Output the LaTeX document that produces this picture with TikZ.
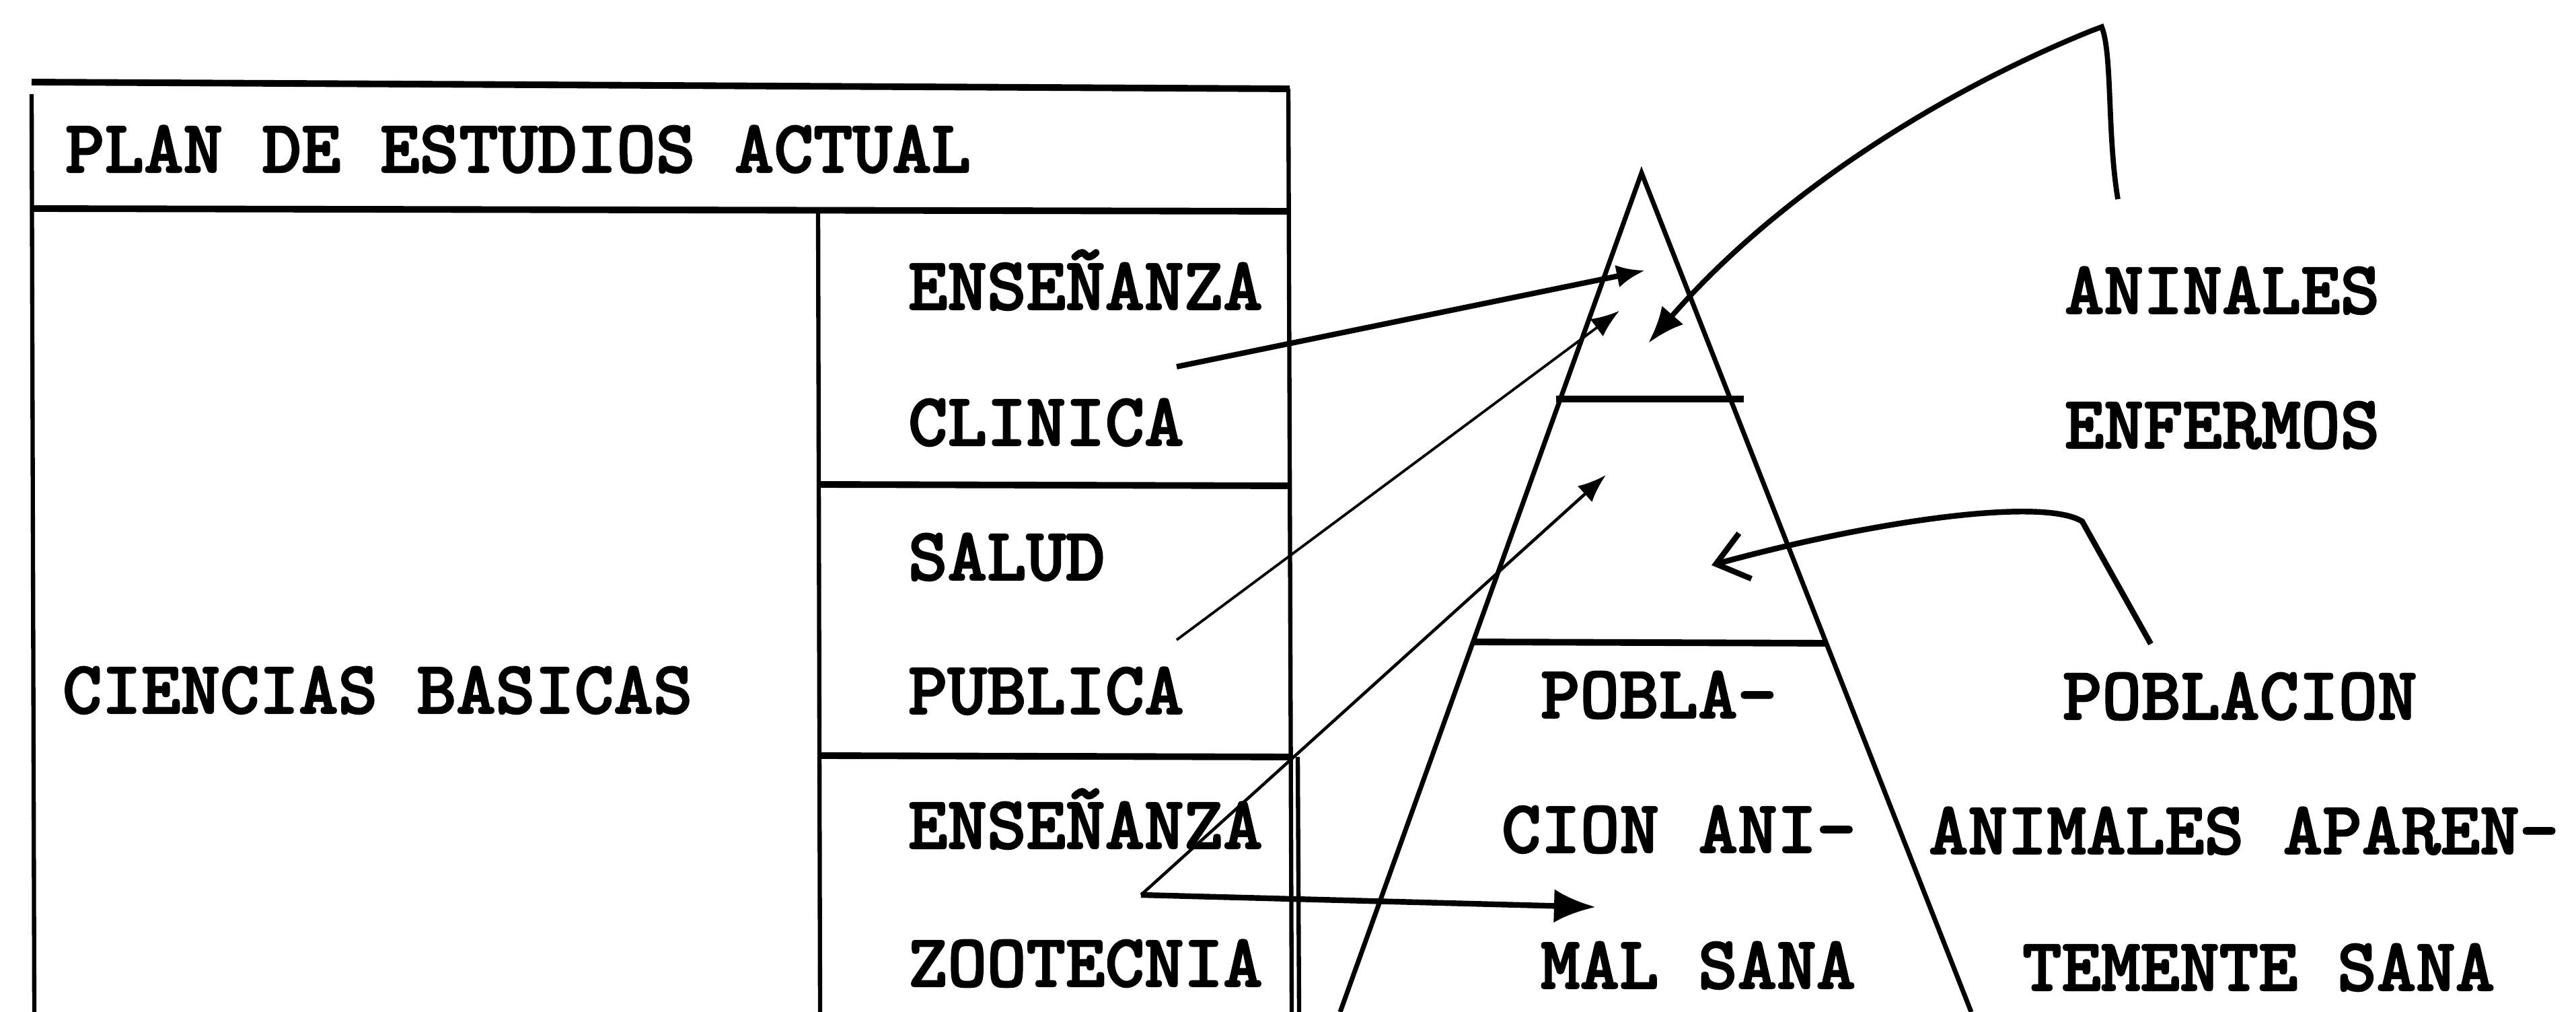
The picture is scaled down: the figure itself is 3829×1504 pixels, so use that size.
\documentclass[tikz,border=0pt]{standalone}
\usepackage{fontspec}
\newfontfamily\twfont{lmmonolt10-bold.otf}[FakeBold=2]
\usetikzlibrary{arrows.meta}
\tikzset{
  lbl/.style={anchor=base west, inner sep=0pt, outer sep=0pt,
    font=\fontsize{31.7}{34}\twfont},
  hrule/.style={line width=2.8pt},
  vrule/.style={line width=1.8pt},
  side/.style={line width=2pt},
  tier/.style={line width=2.8pt},
  thickarr/.style={line width=2.3pt, -{Latex[length=0.42cm,width=0.34cm]}},
  thinarr/.style={line width=1.1pt, -{Latex[length=0.42cm,width=0.32cm]}},
}
\begin{document}
\begin{tikzpicture}[x=0.01cm,y=-0.01cm]
\useasboundingbox[fill=white] (0,0) rectangle (3829,1504);

% ---------- table ----------
\draw[hrule] (47,122) -- (1917,132);
\draw[vrule] (47,140) -- (51,1504);
\draw[vrule] (1915,132) -- (1920,1504);
\draw[vrule] (1929,1125) -- (1931,1504);
\draw[hrule] (45,310) -- (1917,314);
\draw[vrule] (1216,312) -- (1219,1504);
\draw[hrule] (1216,720) -- (1917,722);
\draw[hrule] (1218,1123) -- (1920,1125);

\node[lbl] (ttitle) at (97,256) {PLAN DE ESTUDIOS ACTUAL};
\node[lbl] (tcb)    at (93,1060) {CIENCIAS BASICAS};
\node[lbl] (tec)    at (1350,460) {ENSEÑANZA};
\node[lbl] (tcl)    at (1350,662) {CLINICA};
\node[lbl] (tsa)    at (1350,862) {SALUD};
\node[lbl] (tpu)    at (1350,1061) {PUBLICA};
\node[lbl] (tez)    at (1350,1261) {ENSEÑANZA};
\node[lbl] (tzo)    at (1350,1466) {ZOOTECNIA};

% ---------- pyramid ----------
\coordinate (apex) at (2440,257);
\coordinate (bl) at (1992,1504);
\coordinate (br) at (2930,1504);
\draw[side] (bl) -- (apex) -- (br);
\coordinate (t1l) at (2313,593);
\coordinate (t1r) at (2592,593);
\coordinate (t2l) at (2191,954);
\coordinate (t2r) at (2716,956);
\draw[tier] (t1l) -- (t1r);
\draw[tier] (t2l) -- (t2r);

\node[lbl] (tpob1) at (2290,1067) {POBLA-};
\node[lbl] (tcion) at (2232,1267) {CION ANI-};
\node[lbl] (tmal)  at (2290,1469) {MAL SANA};

% ---------- right labels ----------
\node[lbl] (tan)   at (3069,466) {ANINALES};
\node[lbl] (ten)   at (3069,666) {ENFERMOS};
\node[lbl] (tpob2) at (3066,1069) {POBLACION};
\node[lbl] (tanap) at (2867,1269) {ANIMALES APAREN-};
\node[lbl] (ttem)  at (3006,1472) {TEMENTE SANA};

% ---------- arrows ----------
\coordinate (a1s) at (1749,545);
\coordinate (a1e) at (2445,402);
\draw[thickarr] (a1s) -- (a1e);

\coordinate (a2s) at (1749,951);
\coordinate (a2e) at (2407,462);
\draw[thinarr] (a2s) -- (a2e);

\coordinate (a3s) at (3148,296);
\coordinate (a3top) at (3124,40);
\coordinate (a3hook) at (3108,46);
\coordinate (a3e) at (2450,510);
\draw[line width=2.2pt, -{Latex[length=0.55cm,width=0.42cm]}]
  (a3s) .. controls (3132,200) and (3140,80) .. (a3top) -- (a3hook)
  .. controls (2900,130) and (2650,280) .. (a3e);

\coordinate (a4v) at (1696,1330);
\coordinate (a4e1) at (2387,706);
\coordinate (a4e2) at (2372,1348);
\draw[thinarr, line width=1.3pt] (a4v) -- (a4e1);
\draw[line width=2.4pt, -{Latex[length=0.62cm,width=0.5cm]}] (a4v) -- (a4e2);

\coordinate (a5s) at (3197,957);
\coordinate (a5k) at (3095,775);
\coordinate (a5e) at (2544,840);
\draw[line width=2.4pt, -{Straight Barb[length=0.45cm,width=0.7cm]}]
  (a5s) -- (a5k) .. controls (3040,740) and (2800,770) .. (a5e);
\end{tikzpicture}
\end{document}
